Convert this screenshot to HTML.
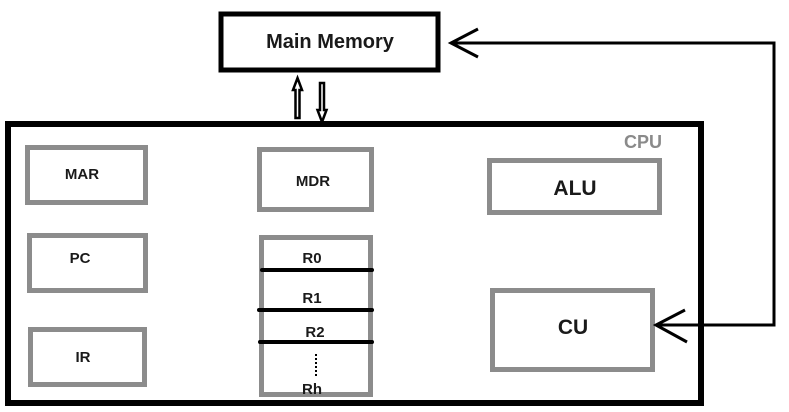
<!DOCTYPE html>
<html><head><meta charset="utf-8"><style>
html,body{margin:0;padding:0;background:#fff;}
svg{display:block;}
text{font-family:"Liberation Sans",sans-serif;font-weight:bold;}
</style></head><body>
<svg width="789" height="412" viewBox="0 0 789 412" xmlns="http://www.w3.org/2000/svg">
<rect width="789" height="412" fill="#fff"/>
<rect x="221" y="14" width="217" height="56" fill="#fff" stroke="#000" stroke-width="5"/>
<text x="330" y="48" font-size="20" text-anchor="middle" fill="#1a1a1a">Main Memory</text>
<path d="M297.5 78 L302 90 L299.5 90 L299.5 118 L295.5 118 L295.5 90 L293 90 Z" fill="#fff" stroke="#000" stroke-width="2.5"/>
<path d="M322 122 L326.5 110 L324 110 L324 83 L320 83 L320 110 L317.5 110 Z" fill="#fff" stroke="#000" stroke-width="2.5"/>
<rect x="8" y="124" width="693" height="279" fill="none" stroke="#000" stroke-width="6"/>
<text x="643" y="148" font-size="18" text-anchor="middle" fill="#8a8a8a">CPU</text>
<g fill="none" stroke="#8c8c8c" stroke-width="5">
<rect x="27.5" y="147.5" width="118" height="55"/>
<rect x="29.5" y="235.5" width="116" height="55"/>
<rect x="30.5" y="329.5" width="114" height="55"/>
<rect x="259.5" y="149.5" width="112" height="60"/>
<rect x="261.5" y="237.5" width="109" height="157"/>
<rect x="489.5" y="160.5" width="170" height="52"/>
<rect x="492.5" y="290.5" width="160" height="79"/>
</g>
<g stroke="#000" stroke-width="4" stroke-linecap="round">
<line x1="262" y1="270" x2="372" y2="270"/>
<line x1="259" y1="310" x2="372" y2="310"/>
<line x1="260" y1="342" x2="372" y2="342"/>
</g>
<line x1="316" y1="354" x2="316" y2="378" stroke="#000" stroke-width="2" stroke-dasharray="2,2"/>
<g font-size="15" text-anchor="middle" fill="#1a1a1a">
<text x="82" y="179">MAR</text>
<text x="80" y="263">PC</text>
<text x="83" y="362">IR</text>
<text x="313" y="186">MDR</text>
<text x="312" y="263">R0</text>
<text x="312" y="303">R1</text>
<text x="315" y="337">R2</text>
<text x="312" y="394">Rh</text>
</g>
<text x="575" y="195" font-size="21" text-anchor="middle" fill="#1a1a1a">ALU</text>
<text x="573" y="334" font-size="21" text-anchor="middle" fill="#1a1a1a">CU</text>
<polyline points="452,43 774,43 774,325 656,325" fill="none" stroke="#000" stroke-width="3"/>
<polyline points="478,29 451,43 478,57" fill="none" stroke="#000" stroke-width="3"/>
<polyline points="685,310 656,325 687,342" fill="none" stroke="#000" stroke-width="3"/>
</svg>
</body></html>
